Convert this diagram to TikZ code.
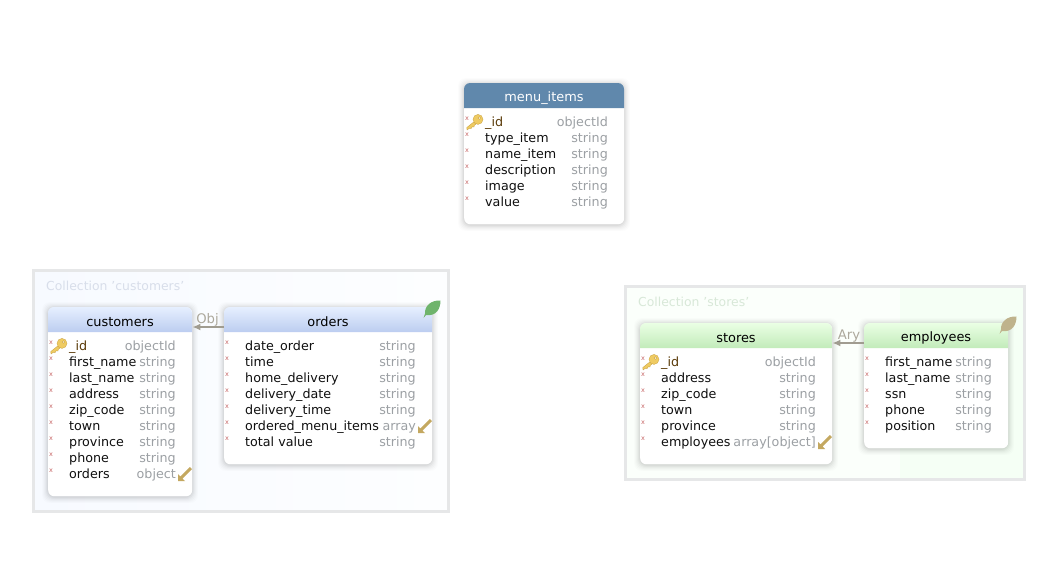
\documentclass[tikz,border=0pt]{standalone}
\usepackage{fontspec}
\setmainfont{DejaVu Sans}
\usetikzlibrary{arrows.meta,calc}
\definecolor{nameC}{HTML}{101010}
\definecolor{typeC}{HTML}{9CA0A4}
\definecolor{idC}{HTML}{5A3A08}
\definecolor{markC}{HTML}{C86868}
\definecolor{relC}{HTML}{A09C90}
\definecolor{rellabelC}{HTML}{ACA89C}
\definecolor{collC}{HTML}{E6E7E8}
\definecolor{collTextA}{HTML}{D8DEEA}
\definecolor{collTextB}{HTML}{D8E8D8}
\definecolor{keyEdge}{HTML}{C8A040}
\definecolor{keyFill}{HTML}{EFCB62}
\definecolor{backGold}{HTML}{C4A860}
\definecolor{blueTop}{HTML}{E6EFFF}
\definecolor{blueBot}{HTML}{BCCDF0}
\definecolor{greenTop}{HTML}{EAFFE4}
\definecolor{greenBot}{HTML}{C2EBBA}
\definecolor{steel}{HTML}{6088AC}
\definecolor{leafB}{HTML}{6FB46C}
\definecolor{leafD}{HTML}{BFB38C}
\definecolor{collBlueL}{HTML}{F7FAFF}
\definecolor{collBlueR}{HTML}{FDFEFF}
\definecolor{collGreenL}{HTML}{FBFFFB}
\definecolor{collGreenR}{HTML}{F5FFF5}
\tikzset{
  x=1pt,y=-1pt,
  tablebody/.style={draw=none,fill=white,rounded corners=6pt,anchor=north west,inner sep=0pt},
  coll/.style={draw=collC,line width=3pt},
  collabel/.style={anchor=base west,inner sep=0pt,font=\fontsize{12.4}{14}\selectfont},
  head/.style={anchor=center,inner sep=0pt,font=\fontsize{12.9}{15}\selectfont},
  fname/.style={anchor=base west,inner sep=0pt,text=nameC,font=\fontsize{12.7}{15}\selectfont},
  fid/.style={fname,text=idC},
  ftype/.style={anchor=base east,inner sep=0pt,text=typeC,font=\fontsize{12.7}{15}\selectfont},
  rel/.style={draw=relC,line width=1.8pt,-{Latex[length=8pt,width=7pt]}},
  rellabel/.style={anchor=base,inner sep=0pt,text=rellabelC,font=\fontsize{13.2}{15}\selectfont},
  keyicon/.pic={
    \fill[keyFill,draw=keyEdge,line width=.3pt,line join=round]
      (-8,8) -- (-8.2,5.5) -- (0.5,-1.4) -- (2.6,.8) -- (-.8,3.4) -- (-1,5) -- (-3,4.8) -- (-3.6,6.4) -- (-5.6,6.3) -- cycle;
    \fill[keyFill,draw=keyEdge,line width=.3pt,even odd rule] (3,-2.6) circle (5) (4.4,-4) circle (1.3);
  },
  backarrow/.pic={
    \fill[backGold] (-7,7) -- (-7,0) -- (-4.6,2.4) -- (4.8,-7) -- (7,-5) -- (-2.4,4.6) -- (0,7) -- cycle;
  },
  leaf/.pic={
    \fill[pic actions] (-8.5,9) -- (-7,4.5) .. controls (-7.5,-3) and (-1,-9) .. (8.5,-8.5) .. controls (8.5,0) and (4,7.5) .. (-6,6) -- cycle;
  },
}
% #1 name, #2 x, #3 y, #4 width, #5 height
\newcommand{\tablebox}[5]{%
  \foreach \s/\o in {6/.010,5/.014,4/.018,3/.024,2/.030,1/.036}{
    \fill[black,opacity=\o,rounded corners=8pt] (#2-\s,#3-\s+1) rectangle (#2+#4+\s,#3+#5+\s+1);
  }
  \node[tablebody,minimum width=#4pt,minimum height=#5pt] (#1) at (#2,#3) {};
}
% header: #1 name, #2 x, #3 y, #4 width, #5 shading options, #6 text colour, #7 title
\newcommand{\tablehead}[7]{%
  \path[#5] (#2,#3+25) [rounded corners=6pt] -- (#2,#3) -- (#2+#4,#3) [sharp corners] -- (#2+#4,#3+25) -- cycle;
  \node[head,text=#6] (#1-title) at (#2+#4/2,#3+15) {#7};
}
\newcounter{rowno}
% #1 table, #2 left, #3 baseline y, #4 name x, #5 type x, #6 field, #7 type, #8 style
\newcommand{\fieldrow}[8]{%
  \stepcounter{rowno}%
  \node[font=\fontsize{6.5}{6.5}\selectfont,text=markC,inner sep=0pt] (#1-m\therowno) at (#2+3,#3-7) {x};
  \node[#8] (#1-f\therowno) at (#4,#3) {#6};
  \node[ftype] (#1-t\therowno) at (#5,#3) {#7};
}
\begin{document}
\begin{tikzpicture}
\useasboundingbox (0,0) rectangle (1056,576);
\fill[white] (0,0) rectangle (1056,576);
% collections
\path[left color=collBlueL,right color=collBlueR] (33,270) rectangle (448,511);
\draw[coll] (33,270) rectangle (448,511);
\fill[collGreenL] (625,286) rectangle (900,479);
\fill[collGreenR] (900,286) rectangle (1024,479);
\draw[coll] (625,286) rectangle (1024,479);
\node[collabel,text=collTextA] (collA) at (46,290) {Collection 'customers'};
\node[collabel,text=collTextB] (collB) at (638,306) {Collection 'stores'};
% menu_items
\tablebox{menu}{464}{83}{160}{141}
\tablehead{menu}{464}{83}{160}{fill=steel}{white}{menu\_items}
\fieldrow{menu}{464}{126}{485}{608}{\_id}{objectId}{fid}
\fieldrow{menu}{464}{142}{485}{608}{type\_item}{string}{fname}
\fieldrow{menu}{464}{158}{485}{608}{name\_item}{string}{fname}
\fieldrow{menu}{464}{174}{485}{608}{description}{string}{fname}
\fieldrow{menu}{464}{190}{485}{608}{image}{string}{fname}
\fieldrow{menu}{464}{206}{485}{608}{value}{string}{fname}
\pic at (475,122) {keyicon};
% customers
\tablebox{customers}{48}{307}{144}{189}
\tablehead{customers}{48}{307}{144}{top color=blueTop,bottom color=blueBot}{black}{customers}
\fieldrow{customers}{48}{350}{69}{176}{\_id}{objectId}{fid}
\fieldrow{customers}{48}{366}{69}{176}{first\_name}{string}{fname}
\fieldrow{customers}{48}{382}{69}{176}{last\_name}{string}{fname}
\fieldrow{customers}{48}{398}{69}{176}{address}{string}{fname}
\fieldrow{customers}{48}{414}{69}{176}{zip\_code}{string}{fname}
\fieldrow{customers}{48}{430}{69}{176}{town}{string}{fname}
\fieldrow{customers}{48}{446}{69}{176}{province}{string}{fname}
\fieldrow{customers}{48}{462}{69}{176}{phone}{string}{fname}
\fieldrow{customers}{48}{478}{69}{176}{orders}{object}{fname}
\pic at (59,346) {keyicon};
\pic at (185,474) {backarrow};
% orders
\tablebox{orders}{224}{307}{208}{157}
\tablehead{orders}{224}{307}{208}{top color=blueTop,bottom color=blueBot}{black}{orders}
\fieldrow{orders}{224}{350}{245}{416}{date\_order}{string}{fname}
\fieldrow{orders}{224}{366}{245}{416}{time}{string}{fname}
\fieldrow{orders}{224}{382}{245}{416}{home\_delivery}{string}{fname}
\fieldrow{orders}{224}{398}{245}{416}{delivery\_date}{string}{fname}
\fieldrow{orders}{224}{414}{245}{416}{delivery\_time}{string}{fname}
\fieldrow{orders}{224}{430}{245}{416}{ordered\_menu\_items}{array}{fname}
\fieldrow{orders}{224}{446}{245}{416}{total value}{string}{fname}
\pic[fill=leafB] at (432,309) {leaf};
\pic at (425,426) {backarrow};
% stores
\tablebox{stores}{640}{323}{192}{141}
\tablehead{stores}{640}{323}{192}{top color=greenTop,bottom color=greenBot}{black}{stores}
\fieldrow{stores}{640}{366}{661}{816}{\_id}{objectId}{fid}
\fieldrow{stores}{640}{382}{661}{816}{address}{string}{fname}
\fieldrow{stores}{640}{398}{661}{816}{zip\_code}{string}{fname}
\fieldrow{stores}{640}{414}{661}{816}{town}{string}{fname}
\fieldrow{stores}{640}{430}{661}{816}{province}{string}{fname}
\fieldrow{stores}{640}{446}{661}{816}{employees}{array[object]}{fname}
\pic at (651,362) {keyicon};
\pic at (825,442) {backarrow};
% employees
\tablebox{employees}{864}{323}{144}{125}
\tablehead{employees}{864}{323}{144}{top color=greenTop,bottom color=greenBot}{black}{employees}
\fieldrow{employees}{864}{366}{885}{992}{first\_name}{string}{fname}
\fieldrow{employees}{864}{382}{885}{992}{last\_name}{string}{fname}
\fieldrow{employees}{864}{398}{885}{992}{ssn}{string}{fname}
\fieldrow{employees}{864}{414}{885}{992}{phone}{string}{fname}
\fieldrow{employees}{864}{430}{885}{992}{position}{string}{fname}
\pic[fill=leafD] at (1008,325) {leaf};
% connectors
\draw[rel] ($(orders.north west)+(0,20)$) -- ($(customers.north east)+(0,20)$);
\draw[rel] ($(employees.north west)+(0,20)$) -- ($(stores.north east)+(0,20)$);
\node[rellabel] (objl) at (207.5,323) {Obj};
\node[rellabel] (aryl) at (849,339) {Ary};
\end{tikzpicture}
\end{document}
